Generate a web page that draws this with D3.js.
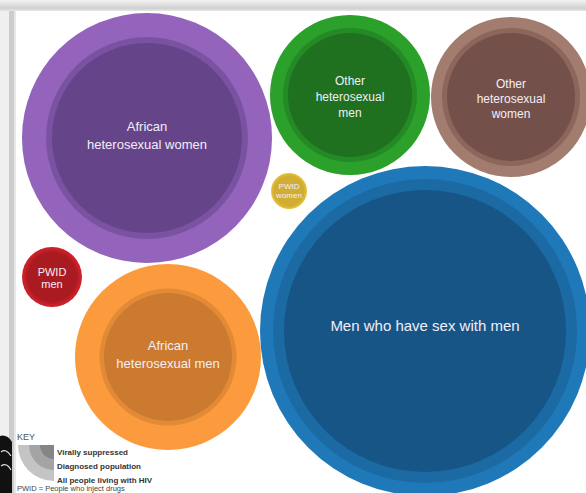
<!DOCTYPE html>
<html>
<head>
<meta charset="utf-8">
<script src="https://cdn.jsdelivr.net/npm/d3@7"></script>
<style>
html,body{margin:0;padding:0;background:#fff;overflow:hidden;}
svg{display:block;}
</style>
</head>
<body>
<svg id="chart" width="586" height="493"></svg>
<script>
// ---- data ----
const categories = [
  "African heterosexual women",
  "Other heterosexual men",
  "Other heterosexual women",
  "PWID women",
  "PWID men",
  "African heterosexual men",
  "Men who have sex with men"
];
const allPeople   = [26980, 11050, 11050, 560, 1550, 14940, 47000];
const diagnosed   = [17600,  7750,  8220, 500, 1260,  8100, 39900];
const suppressed  = [15580,  6640,  7070, 415, 1080,  7070, 34330];
const labelLines = [
  ["African", "heterosexual women"],
  ["Other", "heterosexual", "men"],
  ["Other", "heterosexual", "women"],
  ["PWID", "women"],
  ["PWID", "men"],
  ["African", "heterosexual men"],
  ["Men who have sex with men"]
];
const keyLabels = ["Virally suppressed", "Diagnosed population", "All people living with HIV"];
const footnote = "PWID = People who inject drugs";

// ---- layout & style (not data) ----
const centers = [[147,138],[350,95],[511,97],[289,191],[52,277],[168,357],[425,331]];
const fontSizes = [13, 12, 12, 8, 11, 13, 15];
const lineHeights = [18, 16, 15, 9, 12, 18, 18];
const textShift = [-3, 2, 2, 0, 1, -3, -5];
const palette = [
  ["#9464bd", "#7a52a2", "#66448a"],
  ["#2ba02b", "#248a25", "#1f701f"],
  ["#a27c6f", "#8c665a", "#73514a"],
  ["#e8c33c", "#ddb736", "#d2ad33"],
  ["#c9202a", "#b81c24", "#aa1a21"],
  ["#fb9b3d", "#e28a36", "#cc7a30"],
  ["#1f79b8", "#1b6aa3", "#175587"]
];

const svg = d3.select("#chart");
const W = 586, H = 493;

// frame / scan edge
const defs = svg.append("defs");
const g1 = defs.append("linearGradient").attr("id","topShade").attr("x1",0).attr("y1",0).attr("x2",0).attr("y2",1);
g1.append("stop").attr("offset","0%").attr("stop-color","#f2f2f2");
g1.append("stop").attr("offset","75%").attr("stop-color","#d0d0d0");
g1.append("stop").attr("offset","100%").attr("stop-color","#e6e6e6");
svg.append("rect").attr("x",0).attr("y",0).attr("width",W).attr("height",H).attr("fill","#fff");
svg.append("rect").attr("x",0).attr("y",0).attr("width",10).attr("height",H).attr("fill","#efefef");
svg.append("rect").attr("x",9).attr("y",8).attr("width",5).attr("height",H).attr("fill","#cccccc");
svg.append("rect").attr("x",14).attr("y",8).attr("width",2).attr("height",H).attr("fill","#e8e8e8");
svg.append("rect").attr("x",0).attr("y",0).attr("width",W).attr("height",11).attr("fill","url(#topShade)");

// bubbles
const r = d3.scaleSqrt().domain([0, d3.max(allPeople)]).range([0, 165]);
const plot = svg.append("g");
const nodes = categories.map((c, i) => ({
  name: c, i, cx: centers[i][0], cy: centers[i][1],
  vals: [allPeople[i], diagnosed[i], suppressed[i]]
}));
const gN = plot.selectAll("g.node").data(nodes).join("g").attr("class","node")
  .attr("transform", d => `translate(${d.cx},${d.cy})`);
[0,1,2].forEach(level => {
  gN.append("circle").attr("r", d => r(d.vals[level])).attr("fill", d => palette[d.i][level]);
});
gN.each(function(d){
  const lines = labelLines[d.i];
  const fs = fontSizes[d.i], lh = lineHeights[d.i];
  const t = d3.select(this).append("text")
    .attr("text-anchor","middle")
    .attr("font-family","'Liberation Sans', Arial, Helvetica, sans-serif")
    .attr("font-size", fs)
    .attr("fill", "#f2eef6");
  lines.forEach((ln, k) => {
    t.append("tspan").attr("x",0)
      .attr("y", textShift[d.i] + (k - (lines.length-1)/2) * lh + 0.36*fs)
      .text(ln);
  });
});

// key
const key = svg.append("g");
key.append("text").attr("x",17).attr("y",440).attr("font-family","'Liberation Sans', Arial, sans-serif")
  .attr("font-size",9).attr("fill","#555").text("KEY");
const kcx = 54, kcy = 445;
const keyR = [36, 25, 14];
const keyCol = ["#c4c4c4", "#a4a4a4", "#858585"];
const arc = d3.arc().innerRadius(0).startAngle(Math.PI).endAngle(1.5*Math.PI);
keyR.forEach((kr, k) => {
  key.append("path").attr("transform",`translate(${kcx},${kcy})`)
    .attr("d", arc.outerRadius(kr)()).attr("fill", keyCol[k]);
});
key.selectAll("text.kl").data(keyLabels).join("text").attr("class","kl")
  .attr("x",57).attr("y",(d,k)=>455 + k*14)
  .attr("font-family","'Liberation Sans', Arial, sans-serif")
  .attr("font-size",8).attr("font-weight","bold").attr("fill","#333").text(d=>d);
key.append("text").attr("x",17).attr("y",491).attr("font-family","'Liberation Sans', Arial, sans-serif")
  .attr("font-size",7.5).attr("fill","#444").text(footnote);

// scan artifact bottom-left
svg.append("path").attr("d","M0,436 Q7,434 12,442 L12,493 L0,493 Z").attr("fill","#111");
svg.append("path").attr("d","M1,452 Q6,448 11,456 M1,466 Q7,462 11,470").attr("stroke","#ddd").attr("stroke-width",1.2).attr("fill","none");
</script>
</body>
</html>
